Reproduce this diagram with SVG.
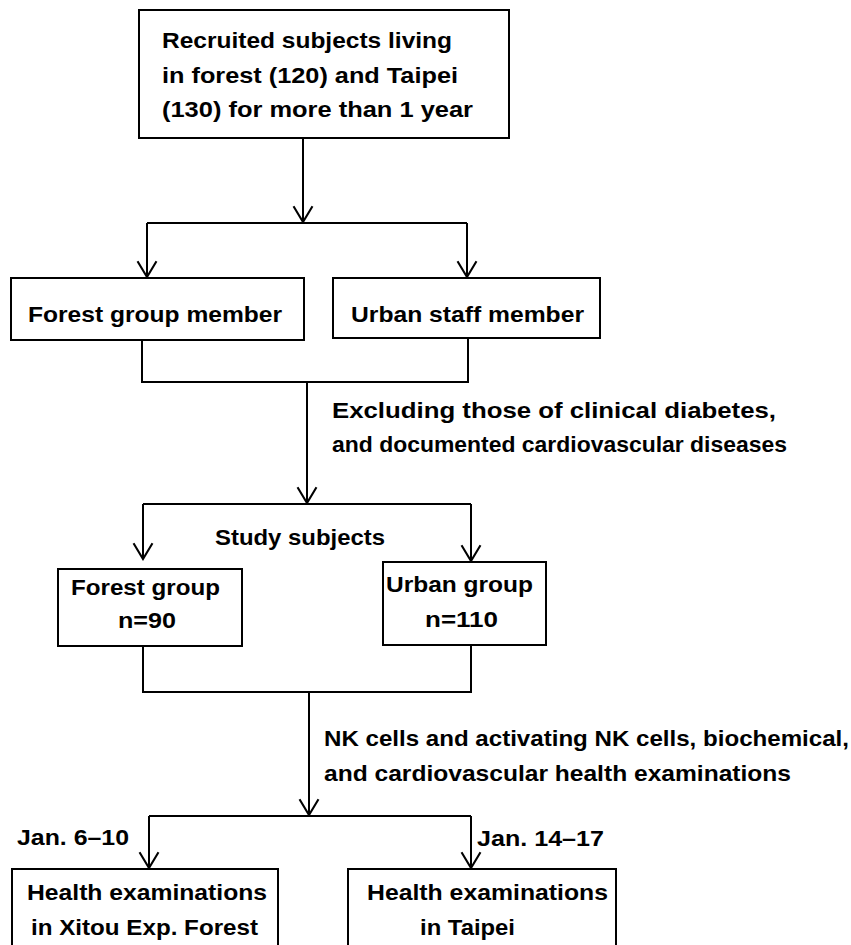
<svg xmlns="http://www.w3.org/2000/svg" width="851" height="945" viewBox="0 0 851 945">
<style>
.box{fill:#fff;stroke:#000;stroke-width:2}
.ln{fill:none;stroke:#000;stroke-width:2}
text{font-family:"Liberation Sans",Arial,sans-serif;font-weight:bold;font-size:22px;fill:#000}
</style>
<defs>
<marker id="arr" markerUnits="userSpaceOnUse" markerWidth="20" markerHeight="24" viewBox="-17 -11 19 22" refX="0" refY="0" orient="auto">
<path d="M-15,-9 L0,0 L-15,9" fill="none" stroke="#000" stroke-width="2"/>
</marker>
</defs>
<rect width="851" height="945" fill="#fff"/>
<g id="connectors">
<path class="ln" d="M303,138 V222" marker-end="url(#arr)"/>
<path class="ln" d="M147,223 H467"/>
<path class="ln" d="M147,223 V277" marker-end="url(#arr)"/>
<path class="ln" d="M467,223 V277" marker-end="url(#arr)"/>
<path class="ln" d="M142,340 V382 H468 V338"/>
<path class="ln" d="M307,382 V503" marker-end="url(#arr)"/>
<path class="ln" d="M143,504 H471"/>
<path class="ln" d="M143,504 V559" marker-end="url(#arr)"/>
<path class="ln" d="M471,504 V561" marker-end="url(#arr)"/>
<path class="ln" d="M143,646 V692 H471 V645"/>
<path class="ln" d="M309,692 V815" marker-end="url(#arr)"/>
<path class="ln" d="M149,816 H471"/>
<path class="ln" d="M149,816 V868" marker-end="url(#arr)"/>
<path class="ln" d="M471,816 V868" marker-end="url(#arr)"/>
</g>
<g id="recruited">
<rect class="box" x="139" y="10" width="370" height="128"/>
<text x="162" y="48" textLength="290" lengthAdjust="spacingAndGlyphs">Recruited subjects living</text>
<text x="162" y="83" textLength="296" lengthAdjust="spacingAndGlyphs">in forest (120) and Taipei</text>
<text x="162" y="117" textLength="311" lengthAdjust="spacingAndGlyphs">(130) for more than 1 year</text>
</g>
<g id="forest-member">
<rect class="box" x="11" y="278" width="293" height="62"/>
<text x="28" y="322" textLength="254" lengthAdjust="spacingAndGlyphs">Forest group member</text>
</g>
<g id="urban-member">
<rect class="box" x="333" y="278" width="267" height="60"/>
<text x="351" y="322" textLength="233" lengthAdjust="spacingAndGlyphs">Urban staff member</text>
</g>
<g id="exclusion-label">
<text x="332" y="418" textLength="444" lengthAdjust="spacingAndGlyphs">Excluding those of clinical diabetes,</text>
<text x="332" y="452" textLength="455" lengthAdjust="spacingAndGlyphs">and documented cardiovascular diseases</text>
</g>
<g id="study-label">
<text x="215" y="545" textLength="170" lengthAdjust="spacingAndGlyphs">Study subjects</text>
</g>
<g id="forest-group">
<rect class="box" x="58" y="569" width="184" height="77"/>
<text x="71" y="595" textLength="149" lengthAdjust="spacingAndGlyphs">Forest group</text>
<text x="118" y="628" textLength="58" lengthAdjust="spacingAndGlyphs">n=90</text>
</g>
<g id="urban-group">
<rect class="box" x="383" y="562" width="163" height="83"/>
<text x="386" y="592" textLength="147" lengthAdjust="spacingAndGlyphs">Urban group</text>
<text x="425" y="627" textLength="73" lengthAdjust="spacingAndGlyphs">n=110</text>
</g>
<g id="exam-label">
<text x="324" y="746" textLength="525" lengthAdjust="spacingAndGlyphs">NK cells and activating NK cells, biochemical,</text>
<text x="324" y="781" textLength="467" lengthAdjust="spacingAndGlyphs">and cardiovascular health examinations</text>
</g>
<g id="date-labels">
<text x="17" y="845" textLength="112" lengthAdjust="spacingAndGlyphs">Jan. 6–10</text>
<text x="477" y="846" textLength="127" lengthAdjust="spacingAndGlyphs">Jan. 14–17</text>
</g>
<g id="exam-forest">
<rect class="box" x="12" y="869" width="266" height="90"/>
<text x="27" y="900" textLength="240" lengthAdjust="spacingAndGlyphs">Health examinations</text>
<text x="31" y="935" textLength="227" lengthAdjust="spacingAndGlyphs">in Xitou Exp. Forest</text>
</g>
<g id="exam-taipei">
<rect class="box" x="348" y="869" width="268" height="90"/>
<text x="367" y="900" textLength="241" lengthAdjust="spacingAndGlyphs">Health examinations</text>
<text x="420" y="935" textLength="95" lengthAdjust="spacingAndGlyphs">in Taipei</text>
</g>
</svg>
